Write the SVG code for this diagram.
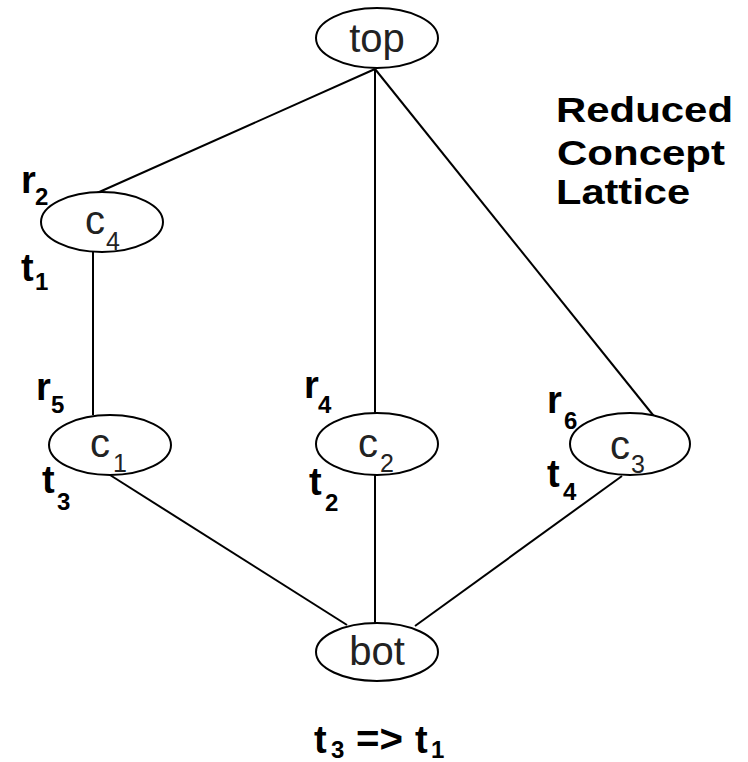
<svg xmlns="http://www.w3.org/2000/svg" width="748" height="762" viewBox="0 0 748 762">
<style>
.node{fill:#fff;stroke:#000;stroke-width:2}
.nl{font-family:"Liberation Sans",Arial,sans-serif;font-size:40px;fill:#222}
.ns{font-family:"Liberation Sans",Arial,sans-serif;font-size:25px;fill:#222}
.lb{font-family:"Liberation Sans",Arial,sans-serif;font-weight:bold;font-size:38px;fill:#000}
.ls{font-family:"Liberation Sans",Arial,sans-serif;font-weight:bold;font-size:24px;fill:#000}
.title{font-family:"Liberation Sans",Arial,sans-serif;font-weight:bold;font-size:35px;fill:#000}
.edge{stroke:#000;stroke-width:2;fill:none}
</style>
<rect width="748" height="762" fill="#fff"/>
<g id="connectors">
<line class="edge" x1="375" y1="69" x2="97" y2="193"/>
<line class="edge" x1="375" y1="69" x2="375" y2="414"/>
<line class="edge" x1="375" y1="69" x2="657" y2="420"/>
<line class="edge" x1="93" y1="252" x2="93" y2="415"/>
<line class="edge" x1="110" y1="475" x2="347" y2="625"/>
<line class="edge" x1="375" y1="475" x2="375" y2="624"/>
<line class="edge" x1="622" y1="476" x2="415" y2="626"/>
</g>
<g id="top">
<ellipse class="node" cx="377" cy="38" rx="61" ry="30"/>
<text class="nl" x="377" y="52" text-anchor="middle">top</text>
</g>
<g id="c4">
<ellipse class="node" cx="102" cy="222" rx="61" ry="30"/>
<text class="nl" x="85" y="234">c</text>
<text class="ns" x="106" y="250">4</text>
</g>
<g id="c1">
<ellipse class="node" cx="110" cy="445" rx="61" ry="30"/>
<text class="nl" x="90" y="457">c</text>
<text class="ns" x="113" y="472">1</text>
</g>
<g id="c2">
<ellipse class="node" cx="377" cy="444" rx="61" ry="31"/>
<text class="nl" x="358" y="457">c</text>
<text class="ns" x="380" y="472">2</text>
</g>
<g id="c3">
<ellipse class="node" cx="630" cy="444" rx="60" ry="31"/>
<text class="nl" x="610" y="459">c</text>
<text class="ns" x="631" y="473">3</text>
</g>
<g id="bot">
<ellipse class="node" cx="377" cy="652" rx="61" ry="29"/>
<text class="nl" x="377" y="665" text-anchor="middle">bot</text>
</g>
<g id="labels">
<text class="lb" x="21" y="193">r</text><text class="ls" x="35" y="205">2</text>
<text class="lb" x="21" y="281">t</text><text class="ls" x="35" y="290">1</text>
<text class="lb" x="36" y="400">r</text><text class="ls" x="51" y="413">5</text>
<text class="lb" x="42" y="493">t</text><text class="ls" x="57" y="510">3</text>
<text class="lb" x="304" y="398">r</text><text class="ls" x="318" y="413">4</text>
<text class="lb" x="309" y="495">t</text><text class="ls" x="325" y="511">2</text>
<text class="lb" x="547" y="413">r</text><text class="ls" x="564" y="429">6</text>
<text class="lb" x="547" y="487">t</text><text class="ls" x="563" y="500">4</text>
</g>
<g id="title">
<text class="title" x="556" y="122" textLength="177" lengthAdjust="spacingAndGlyphs">Reduced</text>
<text class="title" x="557" y="165" textLength="168" lengthAdjust="spacingAndGlyphs">Concept</text>
<text class="title" x="556" y="204" textLength="134" lengthAdjust="spacingAndGlyphs">Lattice</text>
</g>
<g id="rule">
<text class="lb" x="314" y="753">t</text><text class="ls" x="331" y="758">3</text>
<text class="lb" x="356" y="752" textLength="47" lengthAdjust="spacingAndGlyphs">=&gt;</text>
<text class="lb" x="415" y="753">t</text><text class="ls" x="431" y="758">1</text>
</g>
</svg>
